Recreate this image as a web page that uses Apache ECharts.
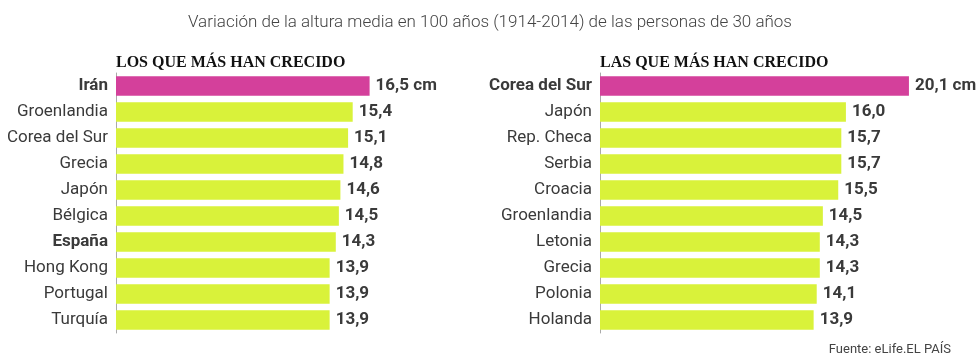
<!DOCTYPE html>
<html><head><meta charset="utf-8">
<script src="https://cdn.jsdelivr.net/npm/echarts@6/dist/echarts.min.js"></script>
<style>html,body{margin:0;padding:0;background:#fff}#c{width:980px;height:361px}</style>
</head><body><div id="c"></div>
<script>
const leftNames = ['Irán','Groenlandia','Corea del Sur','Grecia','Japón','Bélgica','España','Hong Kong','Portugal','Turquía'];
const leftValues = [16.5,15.4,15.1,14.8,14.6,14.5,14.3,13.9,13.9,13.9];
const rightNames = ['Corea del Sur','Japón','Rep. Checa','Serbia','Croacia','Groenlandia','Letonia','Grecia','Polonia','Holanda'];
const rightValues = [20.1,16.0,15.7,15.7,15.5,14.5,14.3,14.3,14.1,13.9];
const boldLeft = ['Irán','España'];
const boldRight = ['Corea del Sur'];
const titleText = 'Variación de la altura media en 100 años (1914-2014) de las personas de 30 años';
const leftHeader = 'LOS QUE MÁS HAN CRECIDO';
const rightHeader = 'LAS QUE MÁS HAN CRECIDO';
const sourceText = 'Fuente: eLife.EL PAÍS';

const MAGENTA = '#d4409b', LIME = '#d9f23a', TXT = '#3a3a3a';
const FONT = 'Roboto, "Liberation Sans", sans-serif';
const PX = 15.37;
const chart = echarts.init(document.getElementById('c'));

function yAx(idx, names, bolds){
  return {type:'category', gridIndex:idx, data:names, inverse:true,
    axisTick:{show:false},
    axisLine:{show:true, lineStyle:{color:'#aaa', width:1}},
    axisLabel:{margin:8, fontFamily:FONT, fontSize:17, color:TXT,
      formatter:v => bolds.includes(v) ? '{b|'+v+'}' : v,
      rich:{b:{fontWeight:'bold', fontFamily:FONT, fontSize:17, color:TXT}}}};
}
function xAx(idx, max){
  return {type:'value', gridIndex:idx, min:0, max:max, show:false, splitLine:{show:false}};
}
function ser(idx, vals){
  return {type:'bar', xAxisIndex:idx, yAxisIndex:idx, barCategoryGap:'25%',
    data: vals.map((v,i)=>({value:v, itemStyle:{color: i===0?MAGENTA:LIME}})),
    label:{show:true, position:'right', distance:6, fontFamily:FONT, fontWeight:'bold', fontSize:17, color:TXT,
      formatter:p => p.value.toFixed(1).replace('.',',') + (p.dataIndex===0?' cm':'')},
    animation:false};
}
chart.setOption({
  animation:false,
  title:[
    {text:titleText, left:'center', top:9, textStyle:{fontFamily:FONT, fontWeight:300, fontSize:17, color:'#444'}},
    {text:leftHeader, left:111, top:50, textStyle:{fontFamily:'"Liberation Serif", serif', fontWeight:'bold', fontSize:16, color:'#111'}},
    {text:rightHeader, left:595, top:50, textStyle:{fontFamily:'"Liberation Serif", serif', fontWeight:'bold', fontSize:16, color:'#111'}},
    {text:sourceText, right:24, top:338, textStyle:{fontFamily:FONT, fontWeight:'normal', fontSize:13, color:'#444'}}
  ],
  grid:[
    {left:116, top:73, height:260, width:20*PX},
    {left:600, top:73, height:260, width:22*PX}
  ],
  xAxis:[xAx(0,20), xAx(1,22)],
  yAxis:[yAx(0,leftNames,boldLeft), yAx(1,rightNames,boldRight)],
  series:[ser(0,leftValues), ser(1,rightValues)]
});
</script></body></html>
